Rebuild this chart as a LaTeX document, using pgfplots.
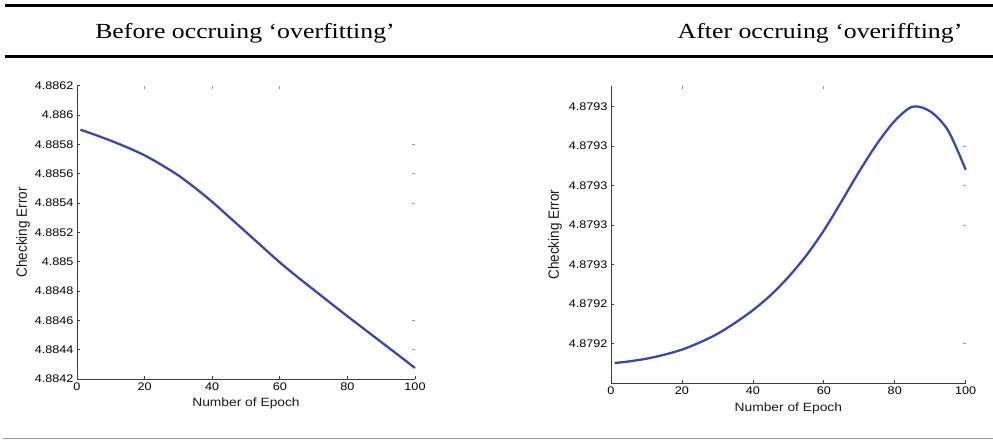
\documentclass[border=0pt]{standalone}
\usepackage{fontspec}
\setmainfont{Liberation Serif}
\newfontfamily\arial{Liberation Sans}
\usepackage{graphicx}
\usepackage{pgfplots}
\pgfplotsset{compat=1.18}
\newcommand\sx[1]{\scalebox{1.15}[1]{#1}}
\definecolor{lineblue}{RGB}{58,72,168}
\definecolor{axgray}{RGB}{60,60,60}

% Left: Checking Error stored as (value - 4.88) x 1e5, e.g. 590 = 4.88590
\pgfplotstableread{
x y
1 590.0
5 586.8
10 582.5
15 577.8
20 572.5
25 566.0
30 558.8
35 550.2
40 540.8
45 530.5
50 520.2
55 509.8
60 499.5
65 490.0
70 480.9
75 471.8
80 462.8
85 454.0
90 445.2
95 436.4
100 427.5
}\before
% Right: Checking Error stored as (value - 4.879) x 1e6, e.g. 270 = 4.879270
\pgfplotstableread{
x y
1 237.5
5 237.7
10 238.05
15 238.55
20 239.2
25 240.1
30 241.2
35 242.6
40 244.2
45 246.1
50 248.4
55 251.1
60 254.3
65 258.0
70 261.8
75 265.3
80 268.2
85 270.0
90 269.4
95 267.0
100 262.0
}\after

\pgfplotsset{
  mainax/.style={
    scale only axis,
    anchor=south west,
    axis lines=left,
    axis line style={-, draw=axgray, line width=0.8pt},
    tick style={draw=axgray, line width=0.7pt},
    tick align=inside,
    major tick length=3pt,
    xmin=0, xmax=100,
    xtick={0,20,40,60,80,100},
    xticklabels={\sx{0},\sx{20},\sx{40},\sx{60},\sx{80},\sx{100}},
    tick label style={font=\arial\fontsize{11}{13}\selectfont, text=black},
    label style={font=\arial\fontsize{12}{14}\selectfont, text=black!90},
    xlabel={\sx{Number of Epoch}},
    ylabel={\fontsize{13.5}{15}\selectfont\scalebox{1}[1.1]{Checking Error}},
    ylabel style={anchor=center, rotate=0},
    clip=false,
  },
  ghostax/.style={
    scale only axis,
    anchor=south west,
    axis line style={draw=none},
    xmin=0, xmax=100,
    xticklabels={}, yticklabels={},
    xtick pos=right, ytick pos=right,
    tick style={draw=black!40, line width=0.8pt},
    tick align=inside,
    major tick length=3pt,
  },
}

\begin{document}
\begin{tikzpicture}
\useasboundingbox (0pt,0pt) rectangle (993pt,442pt);

% table rules
\draw[line width=3pt, black] (5pt,436pt) -- (993pt,436pt);
\draw[line width=3.5pt, black] (5pt,385.5pt) -- (993pt,385.5pt);
\draw[line width=1.2pt, black!40] (3pt,3.7pt) -- (993pt,3.7pt);

% titles
\node[anchor=base] at (245pt,403pt) {\fontsize{21.5}{24}\selectfont\scalebox{1.2}[1]{Before occruing ‘overfitting’}};
\node[anchor=base] at (820pt,403pt) {\fontsize{21.5}{24}\selectfont\scalebox{1.2}[1]{After occruing ‘overiffting’}};

% ghost ticks, left
\begin{axis}[ghostax, at={(77pt,63pt)}, width=338pt, height=293.3pt,
  ymin=420, ymax=620, xtick={20,40,60}, ytick={440,460,540,560,580}]
\end{axis}
% left chart
\begin{axis}[mainax, at={(77pt,63pt)}, width=338pt, height=293.3pt,
  ymin=420, ymax=620,
  ytick={420,440,...,620},
  yticklabels={\sx{4.8842},\sx{4.8844},\sx{4.8846},\sx{4.8848},\sx{4.885},\sx{4.8852},\sx{4.8854},\sx{4.8856},\sx{4.8858},\sx{4.886},\sx{4.8862}},
  xlabel style={at={(axis description cs:0.5,-0.082)}, anchor=center},
  ylabel style={at={(axis description cs:-0.16,0.5)}, anchor=center},
]
\addplot[color=lineblue, line width=2.3pt, smooth, tension=0.5] table[x=x,y=y] {\before};
\end{axis}

% ghost ticks, right
\begin{axis}[ghostax, at={(611pt,58.7pt)}, width=354.7pt, height=297.6pt,
  ymin=234.93, ymax=272.66, xtick={20,60}, ytick={240,255,260,265}]
\end{axis}
% right chart
\begin{axis}[mainax, at={(611pt,58.7pt)}, width=354.7pt, height=297.6pt,
  ymin=234.93, ymax=272.66,
  ytick={240,245,...,270},
  yticklabels={\sx{4.8792},\sx{4.8792},\sx{4.8793},\sx{4.8793},\sx{4.8793},\sx{4.8793},\sx{4.8793}},
  xlabel style={at={(axis description cs:0.5,-0.086)}, anchor=center},
  ylabel style={at={(axis description cs:-0.158,0.5)}, anchor=center},
]
\addplot[color=lineblue, line width=2.3pt, smooth, tension=0.5] table[x=x,y=y] {\after};
\end{axis}
\end{tikzpicture}
\end{document}
